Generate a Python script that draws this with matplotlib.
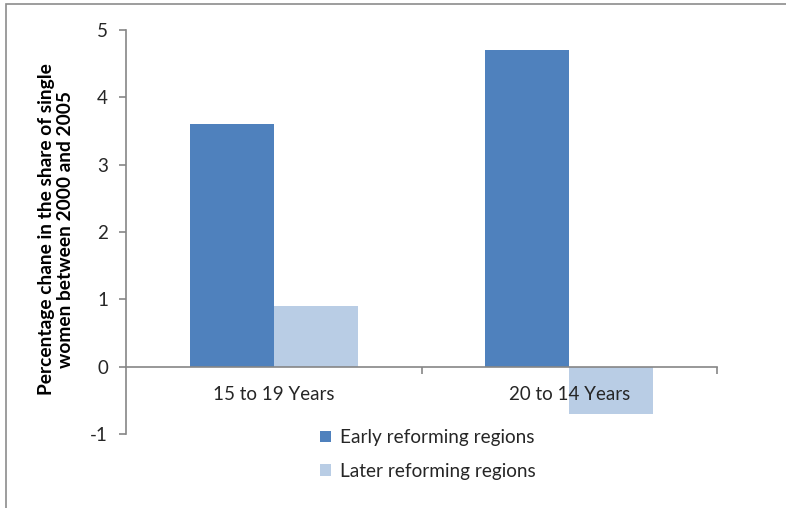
import matplotlib
matplotlib.use("Agg")
import matplotlib.pyplot as plt
from matplotlib.patches import Patch, Rectangle
import numpy as np

categories = ["15 to 19 Years", "20 to 14 Years"]
early = [3.6, 4.7]
later = [0.9, -0.7]
series_names = ["Early reforming regions", "Later reforming regions"]
yticks = [-1, 0, 1, 2, 3, 4, 5]

early_color = "#4F81BD"
later_color = "#B9CDE5"
axis_color = "#868686"
text_color = "#262626"

plt.rcParams["font.family"] = ["Lato", "DejaVu Sans"]

W, H = 786, 508
fig = plt.figure(figsize=(W / 100, H / 100), dpi=100)
ax = fig.add_axes([126 / W, 1 - 434 / H, (717 - 126) / W, (434 - 30) / H])

x = np.arange(len(categories))
bw = 0.285
ax.bar(x - bw / 2, early, width=bw, color=early_color, label=series_names[0])
ax.bar(x + bw / 2, later, width=bw, color=later_color, label=series_names[1])

ax.set_xlim(-0.5, len(categories) - 0.5)
ax.set_ylim(-1, 5)
ax.set_yticks(yticks)
ax.set_yticklabels([str(v) for v in yticks], fontsize=13.5, color=text_color)

for s in ["top", "right"]:
    ax.spines[s].set_visible(False)
ax.spines["bottom"].set_position(("data", 0))
for s in ["left", "bottom"]:
    ax.spines[s].set_color(axis_color)
    ax.spines[s].set_linewidth(1.2)

ax.set_xticks(x)
ax.set_xticklabels(categories, fontsize=13.5, color=text_color)
ax.tick_params(axis="x", which="major", length=0, pad=14)
ax.set_xticks([0.5, 1.5], minor=True)
ax.tick_params(axis="x", which="minor", length=5, color=axis_color, width=1.2, direction="out")
ax.tick_params(axis="y", length=5, color=axis_color, width=1.2, pad=8)

fig.text(56 / W, 1 - 229 / H,
         "Percentage chane in the share of single\nwomen between 2000 and 2005",
         rotation=90, ha="center", va="center", fontsize=13.8, fontweight="bold",
         color="black", linespacing=1.15)

handles = [Patch(facecolor=early_color, edgecolor="none"),
           Patch(facecolor=later_color, edgecolor="none")]
fig.legend(handles, series_names, loc="upper left",
           bbox_to_anchor=(303 / W, 1 - 412 / H), frameon=False,
           fontsize=13.7, handlelength=0.55, handleheight=0.55, handletextpad=0.5,
           labelspacing=0.87, labelcolor=text_color)

# outer frame of the chart area
fig.patches.append(Rectangle((5.5 / W, -0.05), 1.2, 1 - 3.5 / H + 0.05,
                             transform=fig.transFigure, fill=False,
                             edgecolor="#8c8c8c", linewidth=1.2))

fig.savefig("out.png", dpi=100)
